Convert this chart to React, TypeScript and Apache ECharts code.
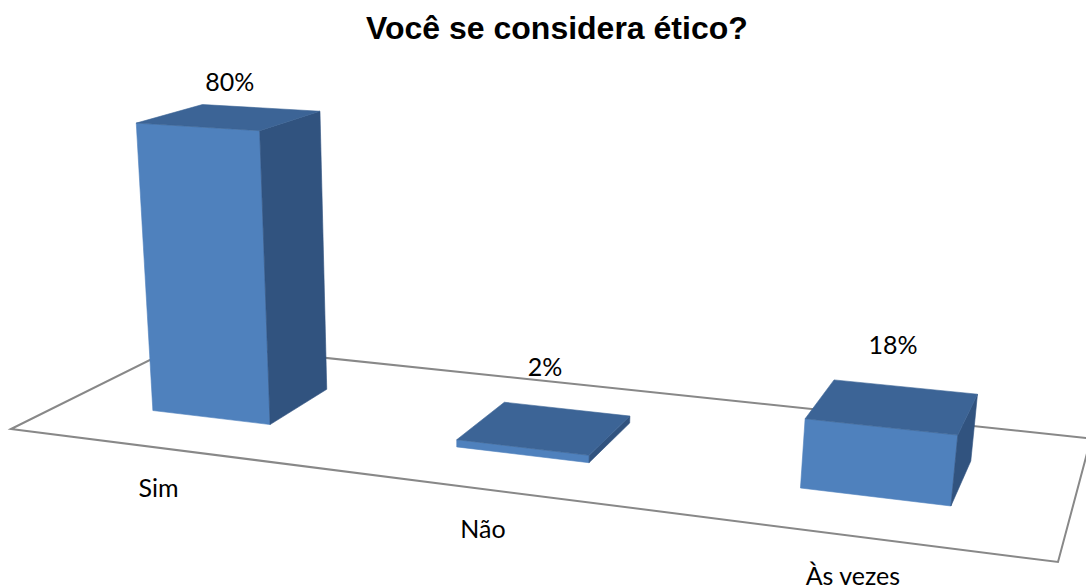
import React, { useEffect, useRef } from 'react';
import * as echarts from 'echarts';

const titleText = 'Você se considera ético?';
const categories = ['Sim', 'Não', 'Às vezes'];
const values = [80, 2, 18];

// Perspective layout (screen px): floor corners front-left, front-right, back-right, back-left
const FLOOR: number[][] = [[11, 429], [1058, 562], [1091, 438.5], [184, 343]];
// homogeneous vertical direction per value unit
const VERT = [-0.3056, -3.785, -0.0006725];
const BAR_HALF_WIDTH = 0.2;
const BAR_Z0 = 0.3;
const BAR_Z1 = 0.68;
const LABEL_FONT = 'Lato';

function makeHomography(q: number[][]) {
  const [[x0, y0], [x1, y1], [x2, y2], [x3, y3]] = q;
  const sx = x0 - x1 + x2 - x3;
  const sy = y0 - y1 + y2 - y3;
  const dx1 = x1 - x2, dx2 = x3 - x2, dy1 = y1 - y2, dy2 = y3 - y2;
  const den = dx1 * dy2 - dx2 * dy1;
  const g = (sx * dy2 - sy * dx2) / den;
  const h = (dx1 * sy - dy1 * sx) / den;
  return {
    a: x1 - x0 + g * x1, b: x3 - x0 + h * x3, c: x0,
    d: y1 - y0 + g * y1, e: y3 - y0 + h * y3, f: y0, g, h,
  };
}
const HM = makeHomography(FLOOR);
const N = categories.length;

function project(X: number, Y: number, Z: number): number[] {
  const u = X / N;
  const v = Z;
  const w = HM.g * u + HM.h * v + 1 + VERT[2] * Y;
  return [
    (HM.a * u + HM.b * v + HM.c + VERT[0] * Y) / w,
    (HM.d * u + HM.e * v + HM.f + VERT[1] * Y) / w,
  ];
}

export default function App() {
  const ref = useRef<HTMLDivElement>(null);
  useEffect(() => {
    if (!ref.current) return;
    const chart = echarts.init(ref.current, undefined, { renderer: 'svg' });
    const floorPts = [project(0, 0, 0), project(N, 0, 0), project(N, 0, 1), project(0, 0, 1)];
    const renderItem = (params: any, api: any) => {
      const cat = api.value(0);
      const val = api.value(1);
      const base = api.coord([cat, 0]);
      const top = api.coord([cat, val]);
      const size = api.size([1, 1]);
      const band = size[0];
      const unit = size[1];
      const cs = params.coordSys;
      const Xc = (base[0] - cs.x) / band;
      const Yh = (base[1] - top[1]) / unit;
      const x0 = Xc - BAR_HALF_WIDTH;
      const x1 = Xc + BAR_HALF_WIDTH;
      const front = [project(x0, 0, BAR_Z0), project(x1, 0, BAR_Z0), project(x1, Yh, BAR_Z0), project(x0, Yh, BAR_Z0)];
      const side = [project(x1, 0, BAR_Z0), project(x1, 0, BAR_Z1), project(x1, Yh, BAR_Z1), project(x1, Yh, BAR_Z0)];
      const topF = [project(x0, Yh, BAR_Z0), project(x1, Yh, BAR_Z0), project(x1, Yh, BAR_Z1), project(x0, Yh, BAR_Z1)];
      const tc = project(Xc, Yh, (BAR_Z0 + BAR_Z1) / 2);
      const fc = project(Xc, 0, 0);
      const idx = params.dataIndex;
      return {
        type: 'group',
        children: [
          { type: 'polygon', shape: { points: front }, style: { fill: '#4F81BD', stroke: '#4F81BD', lineWidth: 0.6 } },
          { type: 'polygon', shape: { points: side }, style: { fill: '#31537F', stroke: '#31537F', lineWidth: 0.6 } },
          { type: 'polygon', shape: { points: topF }, style: { fill: '#3C6496', stroke: '#3C6496', lineWidth: 0.6 } },
          {
            type: 'text',
            style: {
              text: values[idx] + '%', x: tc[0], y: Math.max(tc[1] - 62, 81),
              align: 'center', verticalAlign: 'middle', fontSize: 25, fontFamily: LABEL_FONT, fill: '#000',
            },
          },
          {
            type: 'text',
            style: {
              text: categories[idx], x: fc[0], y: fc[1] + 39,
              align: 'center', verticalAlign: 'middle', fontSize: 25, fontFamily: LABEL_FONT, fill: '#000',
            },
          },
        ],
      };
    };
    chart.setOption({
      animation: false,
      backgroundColor: '#ffffff',
      title: {
        text: titleText, left: 361, top: 7,
        textStyle: { fontFamily: 'Liberation Sans', fontWeight: 'bold', fontSize: 32, color: '#000' },
      },
      grid: { left: 0, top: 0, right: 0, bottom: 0, show: false },
      xAxis: { type: 'category', data: categories, show: false },
      yAxis: { type: 'value', min: 0, max: 100, show: false },
      graphic: [
        {
          type: 'polygon', z: 0,
          shape: { points: floorPts },
          style: { fill: '#ffffff', stroke: '#888888', lineWidth: 2 },
        },
      ],
      series: [
        {
          type: 'custom', z: 5, clip: false,
          renderItem,
          data: categories.map((c, i) => [c, values[i]]),
        },
      ],
    });
    return () => chart.dispose();
  }, []);
  return (
    <div
      ref={ref}
      style={{ position: 'fixed', left: 0, top: 0, width: 1086, height: 588, background: '#fff' }}
    />
  );
}
